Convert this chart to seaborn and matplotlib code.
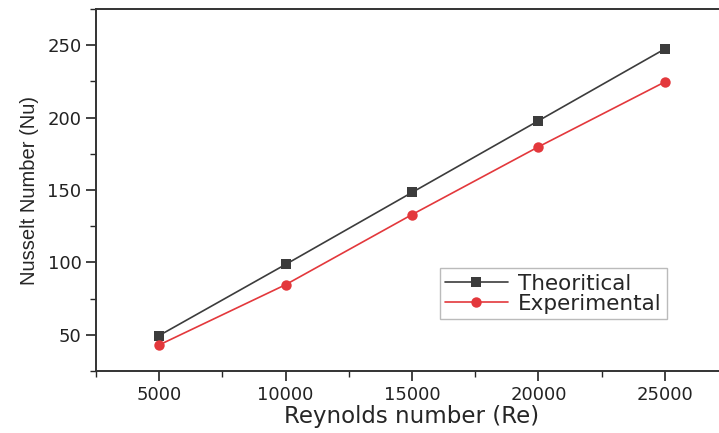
import matplotlib
matplotlib.use("Agg")
import matplotlib.pyplot as plt
import seaborn as sns
import pandas as pd
from matplotlib.ticker import MultipleLocator

reynolds = [5000, 10000, 15000, 20000, 25000]
theoritical = [49.5, 98.6, 148.3, 197.8, 247.4]
experimental = [43.0, 84.6, 133.0, 179.8, 224.6]
series_names = ["Theoritical", "Experimental"]

df = pd.DataFrame({
    "Re": reynolds * 2,
    "Nu": theoritical + experimental,
    "series": [series_names[0]] * 5 + [series_names[1]] * 5,
})

sns.set_style("ticks")
plt.rcParams['font.family'] = ['DejaVu Sans']

fig = plt.figure(figsize=(7.19, 4.33), dpi=100)
ax = fig.add_axes([0.1335, 0.1432, 0.879, 0.836])

colors = {"Theoritical": "#3c3c3c", "Experimental": "#e3383c"}
msize = {"Theoritical": 6.5, "Experimental": 7.5}
sns.lineplot(data=df, x="Re", y="Nu", hue="series", style="series",
             markers={"Theoritical": "s", "Experimental": "o"}, dashes=False,
             palette=colors, markersize=7, markeredgewidth=0, linewidth=1.2, ax=ax)

for ln in ax.lines:
    c = matplotlib.colors.to_hex(ln.get_color())
    if c == colors["Theoritical"]:
        ln.set_markersize(msize["Theoritical"])
    elif c == colors["Experimental"]:
        ln.set_markersize(msize["Experimental"])

ax.set_xlim(2500, 27500)
ax.set_ylim(25, 275)
ax.xaxis.set_major_locator(MultipleLocator(5000))
ax.xaxis.set_minor_locator(MultipleLocator(2500))
ax.yaxis.set_major_locator(MultipleLocator(50))
ax.yaxis.set_minor_locator(MultipleLocator(25))
ax.tick_params(which="major", direction="out", length=7, width=1.2, labelsize=13, colors="#222222")
ax.tick_params(which="minor", direction="out", length=4, width=1.0)
for s in ["left", "bottom", "top"]:
    ax.spines[s].set_linewidth(1.4)
    ax.spines[s].set_color("#333333")
ax.spines["right"].set_visible(False)
ax.set_xlabel("Reynolds number (Re)", fontsize=16.5, labelpad=1)
ax.set_ylabel("Nusselt Number (Nu)", fontsize=14.5, labelpad=6, fontfamily="Liberation Sans")

handles, labels = ax.get_legend_handles_labels()
for h in handles:
    c = matplotlib.colors.to_hex(h.get_color())
    h.set_markersize(msize["Theoritical"] if c == colors["Theoritical"] else msize["Experimental"])
leg = ax.legend(handles, labels, loc="upper left", bbox_to_anchor=(0.544, 0.284),
                fontsize=15.5, frameon=True, fancybox=False, edgecolor="#aaaaaa",
                handlelength=2.9, borderpad=0.25, labelspacing=0.02, handletextpad=0.5,
                borderaxespad=0)
leg.get_frame().set_linewidth(1.0)

fig.savefig("out.png", dpi=100)
